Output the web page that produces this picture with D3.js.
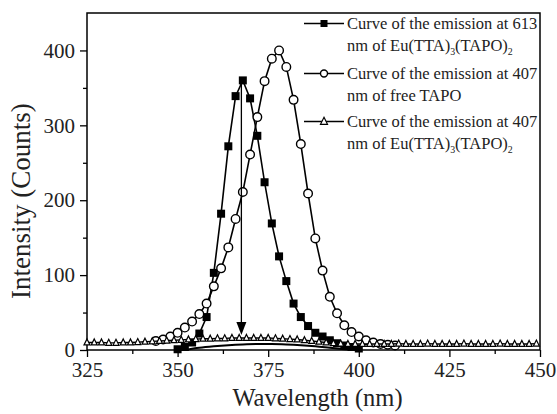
<!DOCTYPE html>
<html>
<head>
<meta charset="utf-8">
<script src="https://cdn.jsdelivr.net/npm/d3@7"></script>
<style>
  html, body { margin: 0; padding: 0; background: #fff; }
  svg { display: block; }
</style>
</head>
<body>
<svg id="chart" width="557" height="414"></svg>
<script>
// Excitation spectra monitored at different emission wavelengths
const squaresNm = [350, 352, 354, 356, 358, 360, 362, 364, 366, 368, 370, 372, 374, 376, 378, 380, 382, 384, 386, 388, 390, 392, 394, 396, 398, 400];
const squaresCounts = [1, 4, 10, 22, 44, 103, 182, 272, 339, 360, 336, 286, 224, 169, 125, 92, 62, 44, 32, 23, 18, 13, 9, 6, 4, 2];

const circlesNm = [344, 346, 348, 350, 352, 354, 356, 358, 360, 362, 364, 366, 368, 370, 372, 374, 376, 378, 380, 382, 384, 386, 388, 390, 392, 394, 396, 398, 400, 402, 404, 406, 408, 410];
const circlesCounts = [12, 14, 18, 23, 30, 38, 48, 62, 85, 109, 137, 175, 211, 261, 311, 359, 389, 400, 378, 334, 275, 209, 149, 106, 71, 49, 33, 24, 18, 13, 10, 8, 7, 6];

const trianglesNm = [325, 327, 329, 331, 333, 335, 337, 339, 341, 343, 345, 347, 349, 351, 353, 355, 357, 359, 361, 363, 365, 367, 369, 371, 373, 375, 377, 379, 381, 383, 385, 387, 389, 391, 393, 395, 397, 399, 401, 403, 405, 407, 409, 411, 413, 415, 417, 419, 421, 423, 425, 427, 429, 431, 433, 435, 437, 439, 441, 443, 445, 447, 449];
const trianglesCounts = [10, 10, 10, 9.5, 9.5, 10, 10, 10.5, 11, 11.5, 12, 12.5, 13, 13.5, 14, 14.5, 15, 15, 15.5, 15.5, 16, 16, 16, 16, 16, 16, 15.5, 15, 14.5, 14, 13, 12, 11, 10, 9, 8.5, 8, 8, 8, 8, 8, 8, 8, 8.5, 8, 8, 8, 8.5, 8, 8, 8, 8, 8.5, 8, 8, 8, 8, 8.5, 8, 8, 8, 8, 8.5];

// low background trace under the markers
const traceNm = [352, 356, 360, 364, 368, 372, 376, 380, 384, 388, 392, 396, 398];
const traceCounts = [0, 3, 5, 6.5, 7.5, 8, 8, 7.5, 6.5, 5, 3, 1, 0];

// arrow from the 613 nm excitation maximum down to the baseline
const arrowNm = 367.6;
const arrowFrom = 358;
const arrowTo = 20;

const xTicks = [325, 350, 375, 400, 425, 450];
const xMinorTicks = [337.5, 362.5, 387.5, 412.5, 437.5];
const yTicks = [0, 100, 200, 300, 400];
const yMinorTicks = [50, 150, 250, 350];

const legendLines = [
  ["Curve of the emission at 613", [["nm of Eu(TTA)", null], ["3", "sub"], ["(TAPO)", null], ["2", "sub"]]],
  ["Curve of the emission at 407", [["nm of free TAPO", null]]],
  ["Curve of the emission at 407", [["nm of Eu(TTA)", null], ["3", "sub"], ["(TAPO)", null], ["2", "sub"]]]
];

const FONT = "Liberation Serif";
const svg = d3.select("#chart");
const plotLeft = 87, plotRight = 540, plotTop = 13, plotBottom = 350;

const x = d3.scaleLinear().domain([325, 450]).range([plotLeft, plotRight]);
const y = d3.scaleLinear().domain([0, 450]).range([plotBottom, plotTop]);

// axes
const axisFont = "21px";
svg.append("g").attr("transform", `translate(0,${plotBottom})`)
  .call(d3.axisBottom(x).tickValues(xTicks).tickSize(7).tickPadding(5).tickFormat(d3.format("d")));
svg.append("g").attr("transform", `translate(0,${plotBottom})`)
  .call(d3.axisBottom(x).tickValues(xMinorTicks).tickSize(4).tickFormat(""));
svg.append("g").attr("transform", `translate(${plotLeft},0)`)
  .call(d3.axisLeft(y).tickValues(yTicks).tickSize(7).tickPadding(5).tickFormat(d3.format("d")));
svg.append("g").attr("transform", `translate(${plotLeft},0)`)
  .call(d3.axisLeft(y).tickValues(yMinorTicks).tickSize(4).tickFormat(""));

svg.selectAll(".domain").remove();
svg.selectAll(".tick line").attr("stroke", "#000").attr("stroke-width", 1.3);
svg.selectAll(".tick text").attr("font-size", axisFont).style("font-family", FONT).attr("fill", "#222");

// frame
svg.append("rect")
  .attr("x", plotLeft).attr("y", plotTop)
  .attr("width", plotRight - plotLeft).attr("height", plotBottom - plotTop)
  .attr("fill", "none").attr("stroke", "#000").attr("stroke-width", 1.5);

// axis titles
svg.append("text")
  .attr("x", (plotLeft + plotRight) / 2 + 4).attr("y", 406)
  .attr("text-anchor", "middle").attr("font-size", "24.5px").style("font-family", FONT).attr("fill", "#222")
  .text("Wavelength (nm)");
svg.append("text")
  .attr("transform", "translate(30,201) rotate(-90)")
  .attr("text-anchor", "middle").attr("font-size", "27px").style("font-family", FONT).attr("fill", "#222")
  .text("Intensity (Counts)");

const plot = svg.append("g");
const line = d3.line().x(d => x(d[0])).y(d => y(d[1]));

const zip = (a, b) => a.map((v, i) => [v, b[i]]);
const squares = zip(squaresNm, squaresCounts);
const circles = zip(circlesNm, circlesCounts);
const triangles = zip(trianglesNm, trianglesCounts);
const trace = zip(traceNm, traceCounts);

plot.append("path").datum(trace)
  .attr("d", d3.line().x(d => x(d[0])).y(d => y(d[1])).curve(d3.curveMonotoneX))
  .attr("fill", "none").attr("stroke", "#000").attr("stroke-width", 2);

// filled squares
plot.append("path").datum(squares).attr("d", line)
  .attr("fill", "none").attr("stroke", "#000").attr("stroke-width", 1.6);
const sq = 8;
plot.selectAll(".sq").data(squares).join("rect")
  .attr("x", d => x(d[0]) - sq / 2).attr("y", d => y(d[1]) - sq / 2)
  .attr("width", sq).attr("height", sq).attr("fill", "#000");

// open circles
plot.append("path").datum(circles).attr("d", line)
  .attr("fill", "none").attr("stroke", "#000").attr("stroke-width", 1.6);
plot.selectAll(".ci").data(circles).join("circle")
  .attr("cx", d => x(d[0])).attr("cy", d => y(d[1])).attr("r", 4.3)
  .attr("fill", "#fff").attr("stroke", "#000").attr("stroke-width", 1.4);

// open triangles
const triPath = (cx, cy, s) => `M${cx},${cy - s * 0.6}L${cx + s / 2},${cy + s * 0.4}L${cx - s / 2},${cy + s * 0.4}Z`;
plot.append("path").datum(triangles).attr("d", line)
  .attr("fill", "none").attr("stroke", "#000").attr("stroke-width", 1.4);
plot.selectAll(".tr").data(triangles).join("path")
  .attr("d", d => triPath(x(d[0]), y(d[1]), 6))
  .attr("fill", "#fff").attr("stroke", "#000").attr("stroke-width", 1.2);

// arrow
const ax = x(arrowNm);
plot.append("line")
  .attr("x1", ax).attr("x2", ax)
  .attr("y1", y(arrowFrom)).attr("y2", y(arrowTo) - 10)
  .attr("stroke", "#000").attr("stroke-width", 1.3);
plot.append("path")
  .attr("d", `M${ax},${y(arrowTo)}L${ax - 5},${y(arrowTo) - 13}L${ax + 5},${y(arrowTo) - 13}Z`)
  .attr("fill", "#000");

// legend
const lg = svg.append("g");
const legendFont = 16.5;
const entryY = [29, 79, 127];
const secondGap = 22;
const symX0 = 304, symX1 = 344, symXm = 324, textX = 347;
legendLines.forEach((entry, i) => {
  const by = entryY[i];
  const cy = by - 5.5;
  lg.append("line").attr("x1", symX0).attr("x2", symX1).attr("y1", cy).attr("y2", cy)
    .attr("stroke", "#000").attr("stroke-width", 1.6);
  if (i === 0) {
    lg.append("rect").attr("x", symXm - 3.5).attr("y", cy - 3.5).attr("width", 7).attr("height", 7).attr("fill", "#000");
  } else if (i === 1) {
    lg.append("circle").attr("cx", symXm).attr("cy", cy).attr("r", 3.5)
      .attr("fill", "#fff").attr("stroke", "#000").attr("stroke-width", 1.4);
  } else {
    lg.append("path").attr("d", triPath(symXm, cy, 7))
      .attr("fill", "#fff").attr("stroke", "#000").attr("stroke-width", 1.2);
  }
  lg.append("text").attr("x", textX).attr("y", by).attr("font-size", legendFont + "px")
    .style("font-family", FONT).attr("fill", "#222").text(entry[0]);
  const t2 = lg.append("text").attr("x", textX).attr("y", by + secondGap).attr("font-size", legendFont + "px")
    .style("font-family", FONT).attr("fill", "#222");
  entry[1].forEach(([s, kind], j) => {
    const ts = t2.append("tspan").text(s);
    if (kind === "sub") ts.attr("font-size", (legendFont * 0.6) + "px").attr("dy", 4);
    else if (j > 0) ts.attr("dy", -4);
  });
});
</script>
</body>
</html>
